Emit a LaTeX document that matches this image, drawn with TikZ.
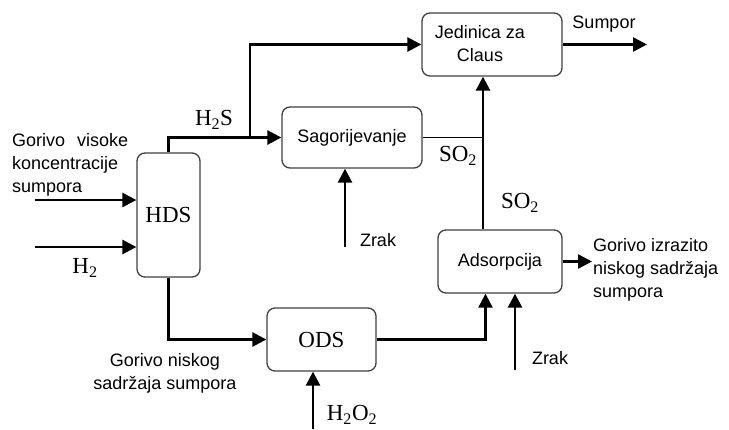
\documentclass[tikz,border=0pt]{standalone}
\usepackage{fontspec}
\setmainfont{Liberation Sans}
\newfontfamily\serifx{Liberation Serif}
\usetikzlibrary{arrows.meta}
\begin{document}
\begin{tikzpicture}[x=1pt,y=-1pt,
  box/.style={draw=black!75,line width=1.3pt,rounded corners=8pt,inner sep=0pt,
    font=\fontsize{18}{23}\selectfont},
  sbox/.style={box,font=\serifx\fontsize{23}{26}\selectfont},
  arr/.style={line width=2.6pt,-{Triangle[length=14pt,width=14pt]}},
  thin/.style={line width=1.8pt},
  lab/.style={inner sep=0pt,font=\fontsize{18}{23}\selectfont},
  slab/.style={inner sep=0pt,font=\serifx\fontsize{23}{26}\selectfont}]
\useasboundingbox (0,0) rectangle (729,429);
% boxes
\node[sbox,minimum width=63pt,minimum height=124pt] (hds) at (168.5,215) {HDS};
\node[box,minimum width=140pt,minimum height=61pt] (sag) at (352,137.5) {Sagorijevanje};
\node[box,minimum width=140pt,minimum height=63pt] (claus) at (492,44.5) {};
\node[lab,align=center] (clausT) at (480,44) {Jedinica za\\Claus};
\node[box,minimum width=124pt,minimum height=63pt] (ads) at (500,261.5) {Adsorpcija};
\node[sbox,minimum width=109pt,minimum height=63pt] (ods) at (321.5,339.5) {ODS};
% coordinates
\coordinate (in1) at (35,200);
\coordinate (in2) at (35,247);
\coordinate (j1) at (250,137.5);
\coordinate (sout) at (647,44.5);
\coordinate (v) at (483,0);
\coordinate (v2) at (485.5,0);
\coordinate (z1) at (345,247);
\coordinate (z2) at (515,370);
\coordinate (hh) at (313,429);
\coordinate (aout) at (592,261.5);
% connectors
\draw[arr] (in1) -- (in1 -| hds.west);
\draw[arr] (in2) -- (in2 -| hds.west);
\draw[arr] (hds.north) |- (sag.west);
\draw[arr] (j1) |- (claus.west);
\draw[arr] (claus.east) -- (sout);
\draw[thin] (sag.east) -- (sag.east -| v);
\draw[arr] (v |- ads.north) -- (v |- claus.south);
\draw[arr] (hds.south) |- (ods.west);
\draw[arr,line width=2.2pt] (ods.east) -| (v2 |- ads.south);
\draw[arr] (z1) -- (z1 |- sag.south);
\draw[arr] (z2) -- (z2 |- ads.south);
\draw[arr] (hh) -- (hh |- ods.south);
\draw[arr] (ads.east) -- (aout);
% labels
\node[lab,anchor=west,align=left] (l1) at (12,165) {\makebox[116pt][s]{Gorivo visoke}\\koncentracije\\sumpora};
\node[slab] (lh2) at (85,268) {H\textsubscript{2}};
\node[slab] (lh2s) at (214,120) {H\textsubscript{2}S};
\node[slab] (so1) at (458,156) {SO\textsubscript{2}};
\node[slab] (so2) at (520,203) {SO\textsubscript{2}};
\node[lab] (sump) at (604,24) {Sumpor};
\node[lab] (zr1) at (378,240) {Zrak};
\node[lab] (zr2) at (550,358) {Zrak};
\node[slab] (h2o2) at (352,415) {H\textsubscript{2}O\textsubscript{2}};
\node[lab,align=center] (l2) at (165,373.5) {Gorivo niskog\\sadržaja sumpora};
\node[lab,anchor=west,align=left] (l3) at (593,270) {Gorivo izrazito\\niskog sadržaja\\sumpora};
\end{tikzpicture}
\end{document}
